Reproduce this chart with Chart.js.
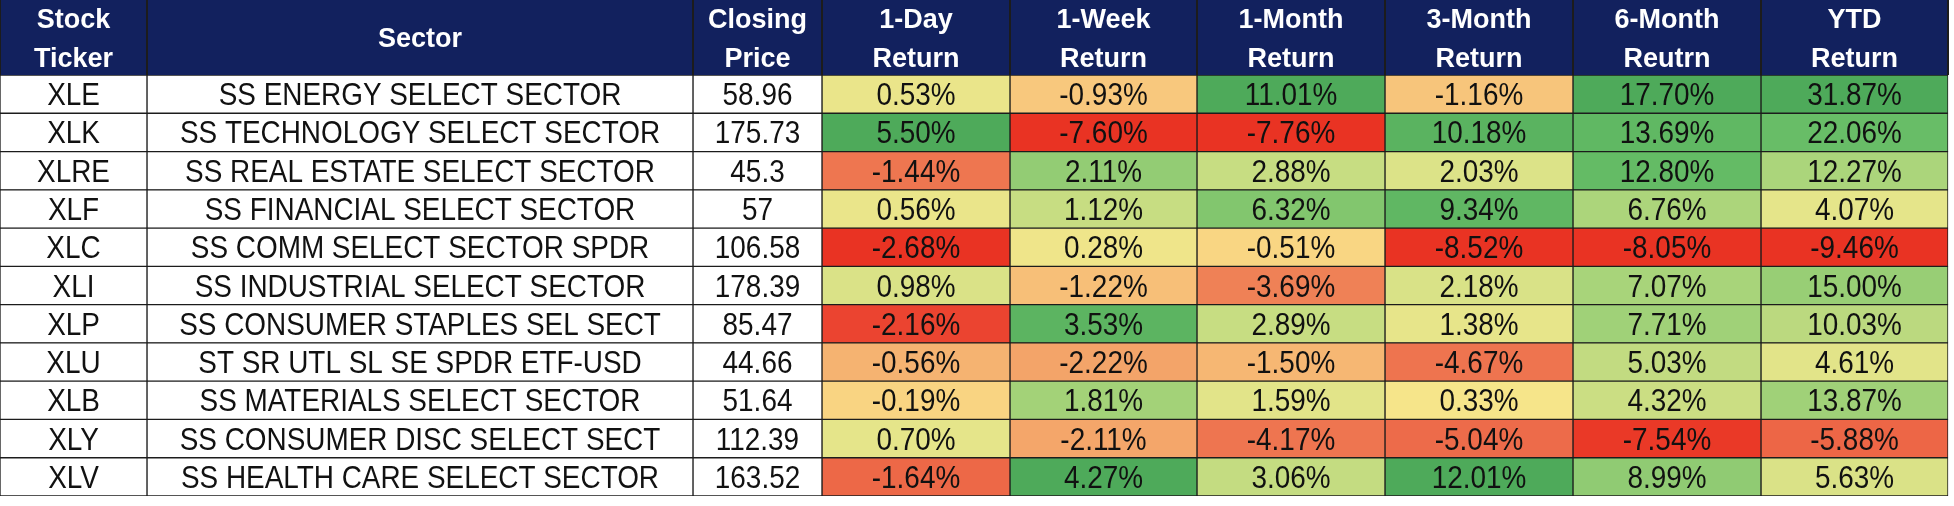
<!DOCTYPE html>
<html>
<head>
<meta charset="utf-8">
<script src="https://cdn.jsdelivr.net/npm/chart.js@4.4.1/dist/chart.umd.min.js"></script>
<style>
  html, body { margin: 0; padding: 0; background: #ffffff; }
  #wrap { width: 1954px; height: 506px; }
</style>
</head>
<body>
<div id="wrap"><canvas id="myChart" width="1954" height="506"></canvas></div>
<script>
// table data
const tickers = ['XLE', 'XLK', 'XLRE', 'XLF', 'XLC', 'XLI', 'XLP', 'XLU', 'XLB', 'XLY', 'XLV'];
const sectors = [
  'SS ENERGY SELECT SECTOR',
  'SS TECHNOLOGY SELECT SECTOR',
  'SS REAL ESTATE SELECT SECTOR',
  'SS FINANCIAL SELECT SECTOR',
  'SS COMM SELECT SECTOR SPDR',
  'SS INDUSTRIAL SELECT SECTOR',
  'SS CONSUMER STAPLES SEL SECT',
  'ST SR UTL SL SE SPDR ETF-USD',
  'SS MATERIALS SELECT SECTOR',
  'SS CONSUMER DISC SELECT SECT',
  'SS HEALTH CARE SELECT SECTOR'
];
const closingPrices = ['58.96', '175.73', '45.3', '57', '106.58', '178.39', '85.47', '44.66', '51.64', '112.39', '163.52'];
const return1Day = [0.53, 5.50, -1.44, 0.56, -2.68, 0.98, -2.16, -0.56, -0.19, 0.70, -1.64];
const return1Week = [-0.93, -7.60, 2.11, 1.12, 0.28, -1.22, 3.53, -2.22, 1.81, -2.11, 4.27];
const return1Month = [11.01, -7.76, 2.88, 6.32, -0.51, -3.69, 2.89, -1.50, 1.59, -4.17, 3.06];
const return3Month = [-1.16, 10.18, 2.03, 9.34, -8.52, 2.18, 1.38, -4.67, 0.33, -5.04, 12.01];
const return6Month = [17.70, 13.69, 12.80, 6.76, -8.05, 7.07, 7.71, 5.03, 4.32, -7.54, 8.99];
const returnYTD = [31.87, 22.06, 12.27, 4.07, -9.46, 15.00, 10.03, 4.61, 13.87, -5.88, 5.63];

const headers = [
  ['Stock', 'Ticker'],
  ['Sector'],
  ['Closing', 'Price'],
  ['1-Day', 'Return'],
  ['1-Week', 'Return'],
  ['1-Month', 'Return'],
  ['3-Month', 'Return'],
  ['6-Month', 'Reutrn'],
  ['YTD', 'Return']
];

// layout: column edges in pixel units along the x scale
const columnEdges = [0, 147, 693, 822, 1010, 1197, 1385, 1573, 1761, 1948];
const HEADER_H = 75;
const NAVY = '#12215e';
const LINE = '#1c1c1c';

// colour ramps, [fraction of column extreme, r, g, b]
const RED_RAMP = [
  [0, 250, 229, 138], [0.12, 248, 201, 125], [0.21, 245, 179, 113],
  [0.54, 238, 117, 80], [0.8, 235, 69, 48], [1, 233, 51, 35]
];
const GREEN_RAMP = [
  [0, 250, 229, 138], [0.13, 229, 229, 138], [0.4, 168, 212, 122],
  [0.7, 102, 188, 102], [1, 78, 170, 90]
];

const ramp = (stops, t) => {
  for (let k = 1; k < stops.length; k++) {
    if (t <= stops[k][0]) {
      const a = stops[k - 1], b = stops[k];
      const f = (t - a[0]) / (b[0] - a[0]);
      return [1, 2, 3].map(i => Math.round(a[i] + (b[i] - a[i]) * f));
    }
  }
  return stops[stops.length - 1].slice(1);
};

// three colour scale, midpoint at zero
const scaleColors = values => {
  const min = Math.min(...values);
  const max = Math.max(...values);
  return values.map(v => {
    const c = v < 0 ? ramp(RED_RAMP, v / min) : ramp(GREEN_RAMP, v / max);
    return `rgb(${c[0]},${c[1]},${c[2]})`;
  });
};

const pct = v => v.toFixed(2) + '%';

const columns = [
  { text: tickers, colors: null },
  { text: sectors, colors: null },
  { text: closingPrices, colors: null },
  { text: return1Day.map(pct), colors: scaleColors(return1Day) },
  { text: return1Week.map(pct), colors: scaleColors(return1Week) },
  { text: return1Month.map(pct), colors: scaleColors(return1Month) },
  { text: return3Month.map(pct), colors: scaleColors(return3Month) },
  { text: return6Month.map(pct), colors: scaleColors(return6Month) },
  { text: returnYTD.map(pct), colors: scaleColors(returnYTD) }
];

const datasets = columns.map((col, j) => ({
  label: headers[j].join(' '),
  data: tickers.map(() => [columnEdges[j], columnEdges[j + 1]]),
  backgroundColor: col.colors || '#ffffff',
  borderColor: LINE,
  borderWidth: 1,
  borderSkipped: false,
  grouped: false,
  barPercentage: 1,
  categoryPercentage: 1
}));

const tablePlugin = {
  id: 'tableText',
  beforeDatasetsDraw(chart) {
    const ctx = chart.ctx;
    const x = chart.scales.x;
    const left = x.getPixelForValue(columnEdges[0]);
    const right = x.getPixelForValue(columnEdges[columnEdges.length - 1]);
    ctx.save();
    ctx.fillStyle = NAVY;
    ctx.fillRect(left, 0, right - left, HEADER_H);
    ctx.strokeStyle = LINE;
    ctx.lineWidth = 2;
    columnEdges.forEach(e => {
      const px = Math.round(x.getPixelForValue(e));
      ctx.beginPath();
      ctx.moveTo(px, 0);
      ctx.lineTo(px, HEADER_H);
      ctx.stroke();
    });
    ctx.restore();
  },
  afterDatasetsDraw(chart) {
    const ctx = chart.ctx;
    const x = chart.scales.x;
    const y = chart.scales.y;
    ctx.save();
    ctx.textAlign = 'center';
    ctx.textBaseline = 'alphabetic';

    // header
    ctx.fillStyle = '#ffffff';
    ctx.font = 'bold 27px "Liberation Sans", Arial, sans-serif';
    headers.forEach((lines, j) => {
      const cx = x.getPixelForValue((columnEdges[j] + columnEdges[j + 1]) / 2);
      if (lines.length === 1) {
        ctx.fillText(lines[0], cx, 47);
      } else {
        ctx.fillText(lines[0], cx, 28);
        ctx.fillText(lines[1], cx, 67);
      }
    });

    // body cells, text slightly condensed
    const sx = 0.9;
    ctx.fillStyle = '#111111';
    ctx.font = '31px "Liberation Sans", Arial, sans-serif';
    columns.forEach((col, j) => {
      const cx = x.getPixelForValue((columnEdges[j] + columnEdges[j + 1]) / 2);
      col.text.forEach((t, i) => {
        const cy = y.getPixelForValue(i);
        ctx.save();
        ctx.translate(cx, cy + 11);
        ctx.scale(sx, 1);
        ctx.fillText(t, 0, 0);
        ctx.restore();
      });
    });
    ctx.restore();
  }
};

const config = {
  type: 'bar',
  data: { labels: tickers, datasets: datasets },
  options: {
    indexAxis: 'y',
    responsive: false,
    animation: false,
    layout: { padding: { top: HEADER_H, bottom: 10, left: 0, right: 0 } },
    scales: {
      x: { type: 'linear', min: 0, max: 1954, display: false },
      y: { type: 'category', display: false, offset: true }
    },
    plugins: {
      legend: { display: false },
      tooltip: { enabled: false }
    }
  },
  plugins: [tablePlugin]
};

const myChart = new Chart(document.getElementById('myChart'), config);
</script>
</body>
</html>
